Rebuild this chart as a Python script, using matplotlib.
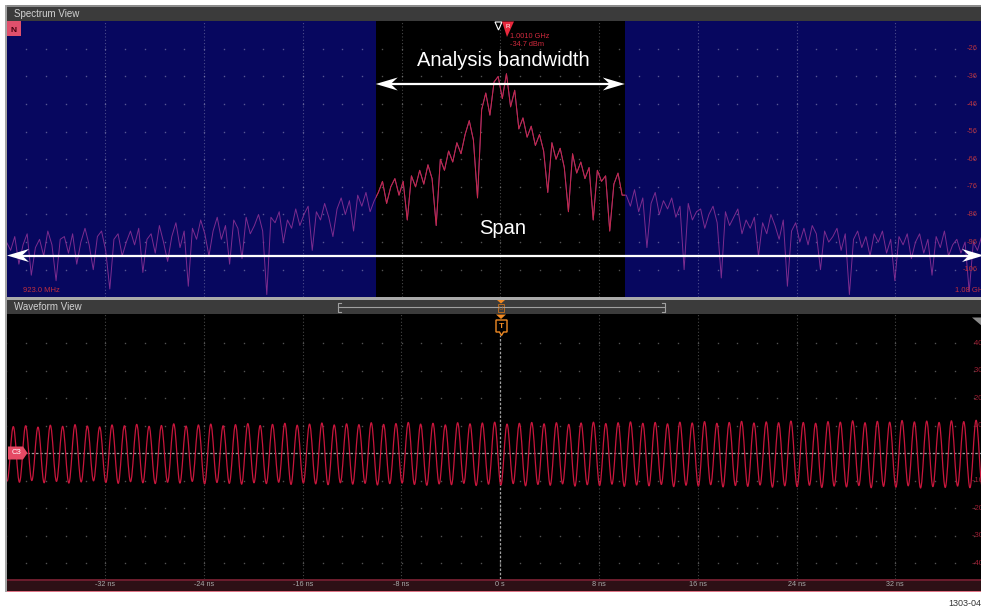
import numpy as np
import matplotlib

matplotlib.use("Agg")
import matplotlib.pyplot as plt
from matplotlib.patches import Rectangle, Polygon, PathPatch
from matplotlib.path import Path
from matplotlib.transforms import Affine2D

W, H = 981, 610

# ---- spectrum view: trace in dBm, one value per bin across the span ----
span_start_mhz = 923.0
span_stop_mhz = 1080.0
band_lo_mhz = 981.7   # analysis bandwidth edges
band_hi_mhz = 1021.3
spectrum_dbm = [
    -96, -99, -94, -104, -97, -93, -108, -98, -95, -101,
    -92, -97, -110, -95, -94, -100, -93, -104, -96, -91,
    -97, -106, -94, -92, -99, -113, -95, -93, -101, -96,
    -92, -97, -91, -107, -95, -93, -100, -90, -96, -103,
    -94, -89, -98, -92, -112, -91, -95, -88, -93, -101,
    -92, -87, -95, -90, -104, -88, -91, -102, -87, -93,
    -90, -86, -92, -115, -87, -89, -85, -96, -88, -91,
    -84, -90, -86, -83, -99, -85, -88, -82, -87, -94,
    -84, -80, -86, -81, -92, -79, -83, -78, -85, -81,
    -78, -74, -82, -76, -73, -79, -74, -88, -72, -76,
    -70, -75, -68, -73, -90, -66, -70, -63, -67, -60,
    -64, -57, -52, -59, -80, -48, -42, -50, -38, -36,
    -44, -35, -47, -41, -55, -51, -58, -54, -61, -57,
    -63, -78, -60, -66, -62, -69, -85, -64, -71, -67,
    -73, -69, -88, -70, -74, -72, -92, -75, -71, -79,
    -79, -83, -77, -85, -80, -98, -82, -78, -86, -81,
    -84, -80, -87, -83, -106, -82, -88, -85, -84, -91,
    -86, -83, -89, -109, -85, -90, -87, -84, -93, -88,
    -91, -87, -101, -89, -93, -86, -90, -95, -88, -112,
    -92, -89, -96, -91, -97, -90, -93, -106, -92, -96,
    -94, -91, -99, -93, -115, -95, -92, -98, -94, -101,
    -93, -96, -92, -100, -95, -110, -94, -97, -93, -102,
    -96, -93, -100, -95, -108, -94, -98, -92, -101, -97,
    -95, -100, -96, -114, -96, -99, -94, -103, -98, -96,
]
db_ticks = [-26, -36, -46, -56, -66, -76, -86, -96, -106]
marker_freq = "1.0010 GHz"
marker_level = "-34.7 dBm"

# ---- waveform view: channel 3, successive peak / trough values (mV) ----
first_peak_ns = -39.45
period_ns = 1.0
peak_mv = [
    9.6, 9.9, 9.4, 10.1, 9.7, 10.3, 9.8, 9.5, 10.2, 9.9,
    10.4, 9.7, 10.0, 10.6, 9.8, 10.2, 10.5, 9.9, 10.3, 10.7,
    10.0, 10.4, 10.8, 10.1, 10.5, 10.9, 10.2, 10.6, 10.3, 11.0,
    10.4, 10.7, 11.1, 10.5, 10.8, 10.2, 11.0, 10.6, 10.9, 11.2,
    10.5, 10.8, 11.1, 10.6, 11.0, 10.4, 10.9, 11.2, 10.7, 11.0,
    11.3, 10.8, 11.1, 10.6, 11.2, 10.9, 11.4, 10.8, 11.1, 11.5,
    10.9, 11.3, 11.0, 11.6, 11.1, 10.8, 11.4, 11.2, 11.7, 11.0,
    11.5, 11.2, 11.8, 11.3, 11.6, 11.1, 11.7, 11.4, 11.9, 11.5,
]
trough_mv = [
    -10.2, -10.6, -10.0, -10.8, -10.3, -10.9, -10.5, -10.1, -10.7, -11.0,
    -10.4, -10.8, -11.1, -10.6, -10.9, -10.3, -11.2, -10.7, -11.0, -11.3,
    -10.8, -11.1, -10.6, -11.4, -10.9, -11.2, -11.5, -10.8, -11.3, -11.0,
    -11.6, -11.1, -10.9, -11.4, -11.7, -11.2, -11.5, -11.0, -11.8, -11.3,
    -11.6, -11.1, -11.9, -11.4, -11.7, -11.2, -12.0, -11.5, -11.8, -11.3,
    -12.1, -11.6, -11.9, -11.4, -12.2, -11.7, -12.0, -11.5, -12.3, -11.8,
    -12.1, -11.6, -12.4, -11.9, -12.2, -11.7, -12.5, -12.0, -12.3, -11.8,
    -12.6, -12.1, -12.4, -11.9, -12.7, -12.2, -12.5, -12.0, -12.6, -12.3,
    -12.4,
]
time_ticks = [-32, -24, -16, -8, 0, 8, 16, 24, 32]
time_labels = ["-32 ns", "-24 ns", "-16 ns", "-8 ns", "0 s", "8 ns", "16 ns", "24 ns", "32 ns"]
mv_ticks = [40, 30, 20, 10, -10, -20, -30, -40]

plt.rcParams["font.family"] = ["Liberation Sans", "DejaVu Sans"]

fig = plt.figure(figsize=(W / 100, H / 100), dpi=100)
fig.patch.set_facecolor("white")
# pixel coords, origin top-left, for the scope chrome
px = Affine2D().scale(1 / W, -1 / H).translate(0, 1) + fig.transFigure


def add_ax(x0, y0, x1, y1, face):
    ax = fig.add_axes([x0 / W, 1 - y1 / H, (x1 - x0) / W, (y1 - y0) / H])
    ax.set_facecolor(face)
    for s in ax.spines.values():
        s.set_visible(False)
    ax.tick_params(which="both", length=0, labelleft=False, labelbottom=False)
    ax.set_xticks([])
    ax.set_yticks([])
    return ax


def rect(x0, y0, x1, y1, color, z=-1):
    fig.add_artist(Rectangle((x0, y0), x1 - x0, y1 - y0, transform=px,
                             facecolor=color, lw=0, zorder=z))


def poly(pts, z=5, **kw):
    fig.add_artist(Polygon(pts, closed=True, transform=px, zorder=z, **kw))


def ftext(x, y, s, **kw):
    kw.setdefault("ha", "left")
    kw.setdefault("va", "center")
    kw.setdefault("zorder", 6)
    fig.text(x, y, s, transform=px, **kw)


# ---- chrome ----
rect(4.5, 5, 6.5, 592, "#a4a4a4")
rect(6.5, 5, 981, 6.5, "#8c8c8c")
rect(6.5, 6.5, 981, 21, "#3b3b3b")
ftext(14, 14, "Spectrum View", color="#d2d2d2", fontsize=7)
rect(6.5, 297, 981, 300, "#aaaaaa")
rect(6.5, 300, 981, 314, "#3b3b3b")
ftext(14, 307.5, "Waveform View", color="#d2d2d2", fontsize=7)
rect(6.5, 579, 981, 592, "#2d1015")
rect(6.5, 579, 981, 580.5, "#6a1c2c")
rect(6.5, 590.5, 981, 592, "#e07486")
ftext(981, 604, "1303-04", ha="right", color="#333333", fontsize=6.5)

# ---- spectrum panel ----
ax_s = add_ax(6.5, 21, 994, 297, "#07075f")
ax_s.set_xlim(span_start_mhz, span_stop_mhz)
ax_s.set_ylim(-115.9, -15.9)
band = ax_s.axvspan(band_lo_mhz, band_hi_mhz, facecolor="black", lw=0, zorder=0.5)

div_mhz = (span_stop_mhz - span_start_mhz) / 10
ax_s.vlines(span_start_mhz + div_mhz * np.arange(1, 10), -115.9, -15.9,
            colors="white", alpha=0.28, lw=0.8, linestyles=(0, (1, 2)), zorder=1)
gx, gy = np.meshgrid(span_start_mhz + div_mhz / 5 * np.arange(1, 50), db_ticks)
ax_s.plot(gx.ravel(), gy.ravel(), ls="none", marker="s", ms=1.0, mew=0,
          color="white", alpha=0.32, zorder=1)

freq_mhz = np.linspace(span_start_mhz, span_stop_mhz, len(spectrum_dbm))
ax_s.plot(freq_mhz, spectrum_dbm, color="#7d2c8f", lw=0.7, zorder=2)
(red_trace,) = ax_s.plot(freq_mhz, spectrum_dbm, color="#c62a46", lw=0.7, zorder=3)
red_trace.set_clip_path(band)

for v in db_ticks:
    ax_s.text(0.9838, v, f"{v}", transform=ax_s.get_yaxis_transform(), ha="right",
              va="center", color="#b4303e", fontsize=5.5, zorder=4)
ax_s.text(0.0167, 0.022, f"{span_start_mhz:.1f} MHz", transform=ax_s.transAxes,
          ha="left", va="center", color="#c0303e", fontsize=5.5)
ax_s.text(0.9605, 0.022, f"{span_stop_mhz / 1000:.2f} GHz", transform=ax_s.transAxes,
          ha="left", va="center", color="#c0303e", fontsize=5.5)

# ---- waveform panel ----
ax_w = add_ax(6.5, 314, 994, 579, "black")
ax_w.set_xlim(-40, 40)
ax_w.set_ylim(-45.8, 50.55)
ax_w.vlines([t for t in time_ticks if t != 0], -45.8, 50.55, colors="white", alpha=0.28,
            lw=0.8, linestyles=(0, (1, 2)), zorder=1)
gx, gy = np.meshgrid(np.arange(-40, 40.01, 1.6), mv_ticks)
ax_w.plot(gx.ravel(), gy.ravel(), ls="none", marker="s", ms=1.0, mew=0,
          color="white", alpha=0.32, zorder=1)
ax_w.axhline(0, xmin=(27 - 6.5) / 987.5, color="#a0a0a0", lw=0.9,
             ls=(0, (2, 1.4)), zorder=2)
ax_w.axvline(0, ymax=1 - (335 - 314) / 265, color="#a0a0a0", lw=0.9,
             ls=(0, (2, 1.4)), zorder=2)

# interleave troughs and peaks, join the extremes with half-sine shaped cubic segments
ext_t, ext_v = [], []
for k in range(len(trough_mv)):
    ext_t.append(first_peak_ns - period_ns / 2 + k * period_ns)
    ext_v.append(trough_mv[k])
    if k < len(peak_mv):
        ext_t.append(first_peak_ns + k * period_ns)
        ext_v.append(peak_mv[k])
c = (1 - 2 / np.pi) * period_ns / 2
verts = [(ext_t[0], ext_v[0])]
codes = [Path.MOVETO]
for (t0, v0), (t1, v1) in zip(zip(ext_t[:-1], ext_v[:-1]), zip(ext_t[1:], ext_v[1:])):
    verts += [(t0 + c, v0), (t1 - c, v1), (t1, v1)]
    codes += [Path.CURVE4] * 3
ax_w.add_patch(PathPatch(Path(verts, codes), fill=False, edgecolor="#c8163c",
                         lw=0.9, zorder=3))

for t, lab in zip(time_ticks, time_labels):
    ax_w.text(t, -0.0226, lab, transform=ax_w.get_xaxis_transform(), ha="center",
              va="center", color="#a8a8a8", fontsize=5.2, clip_on=False)
for v in mv_ticks:
    ax_w.text(1.0023, v, f"{v} mV", transform=ax_w.get_yaxis_transform(), ha="right",
              va="center", color="#a01e34", fontsize=5.5, clip_on=False)

# ---- markers / labels ----
rect(7, 21, 21, 36, "#e0506c", z=5)
ftext(14, 30.5, "N", ha="center", color="#4a0010", fontsize=6, weight="bold")
poly([(495, 22), (502, 22), (498.5, 30)], fill=False, edgecolor="white", lw=0.8)
poly([(502, 21.5), (514, 21.5), (507, 37)], facecolor="#e8283c", lw=0)
ftext(507.5, 26.5, "R", ha="center", color="white", fontsize=4.5)
ftext(510, 36, marker_freq, color="#d02a3e", fontsize=5.3)
ftext(510, 44, marker_level, color="#d02a3e", fontsize=5.3)

poly([(8, 446.5), (23, 446.5), (27.5, 453), (23, 459.5), (8, 459.5)], facecolor="#e54a64", lw=0)
ftext(16, 453, "C3", ha="center", color="white", fontsize=5.5)

orange = "#f08a24"
poly([(497, 300), (505, 300), (501, 303.5)], facecolor=orange, lw=0)
poly([(498, 304), (504, 304), (504, 312), (498, 312)], fill=False, edgecolor="#b86a20", lw=0.7)
ftext(501, 308, "U", ha="center", color="#b86a20", fontsize=4.5)
poly([(496, 314.5), (506, 314.5), (501, 319)], facecolor=orange, lw=0)
poly([(496, 320), (507, 320), (507, 332), (503.5, 332), (501.5, 335.5), (499.5, 332), (496, 332)],
     fill=False, edgecolor=orange, lw=1.0)
ftext(501.5, 326, "T", ha="center", color=orange, fontsize=6, weight="bold")

gray = "#a0a0a0"
fig.add_artist(plt.Line2D([338, 665], [307, 307], transform=px, color=gray, lw=0.8, zorder=5))
fig.add_artist(plt.Line2D([341, 338, 338, 341], [302.5, 302.5, 311.5, 311.5], transform=px,
                          color=gray, lw=0.8, zorder=5))
fig.add_artist(plt.Line2D([662, 665, 665, 662], [302.5, 302.5, 311.5, 311.5], transform=px,
                          color=gray, lw=0.8, zorder=5))
poly([(972, 317.5), (992, 317.5), (982, 326)], facecolor="#8a8a8a", lw=0)


# ---- annotation arrows ----
def double_arrow(xl, xr, y):
    fig.add_artist(plt.Line2D([xl + 14, xr - 14], [y, y], transform=px, color="white",
                              lw=1.6, zorder=6))
    for tip, s in ((xl, 1), (xr, -1)):
        poly([(tip, y), (tip + s * 22, y - 6.5), (tip + s * 15, y), (tip + s * 22, y + 6.5)],
             facecolor="white", lw=0, z=6)


fig.canvas.draw()
x_lo = ax_s.transData.transform((band_lo_mhz, -50))[0]
x_hi = ax_s.transData.transform((band_hi_mhz, -50))[0]
double_arrow(x_lo, x_hi, 84)
double_arrow(7, 984, 255.5)
ftext(503, 61, "Analysis bandwidth", ha="center", color="white", fontsize=14.5, zorder=7)
ftext(503, 228, "Span", ha="center", color="white", fontsize=14.5, zorder=7)

fig.savefig("out.png", dpi=100)
